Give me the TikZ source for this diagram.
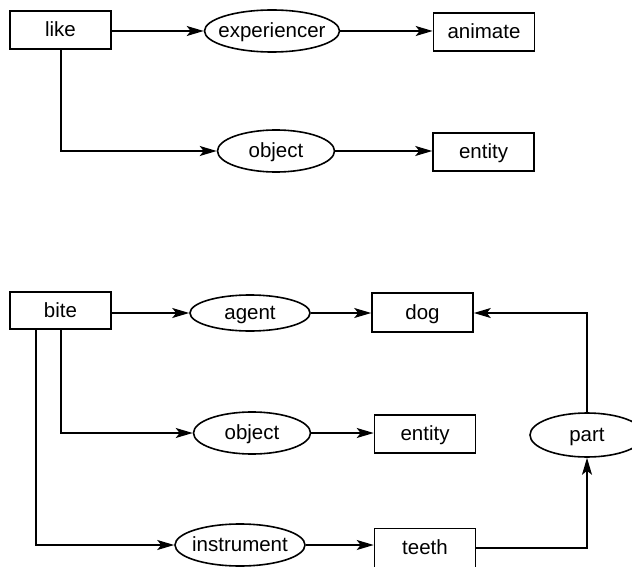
\documentclass[tikz,border=0pt]{standalone}
\usepackage{fontspec}
\setmainfont{Liberation Sans}
\usetikzlibrary{shapes.geometric,arrows.meta}
\begin{document}
\begin{tikzpicture}[x=1pt,y=-1pt,
  every node/.style={font=\fontsize{20.5}{24}\selectfont, text height=15.5pt, text depth=2pt},
  boxnode/.style={draw, line width=1.6pt, rectangle, inner sep=0pt, minimum width=101pt, minimum height=38pt},
  ellnode/.style={draw, line width=1.6pt, ellipse, inner sep=0pt},
  conn/.style={line width=1.5pt, -{Stealth[length=17pt,width=10pt,inset=4pt]}}
]
\useasboundingbox (0,0) rectangle (632,567);
% top graph
\node[boxnode] (like) at (60.5,30) {like};
\node[ellnode, minimum width=135pt, minimum height=42pt] (exp) at (272,31) {\makebox[0pt]{experiencer}};
\node[boxnode] (animate) at (484,32) {animate};
\node[ellnode, minimum width=117pt, minimum height=42pt] (obj1) at (276,151) {\makebox[0pt]{object}};
\node[boxnode] (entity1) at (483.5,152) {entity};
\draw[conn] (like.east |- exp) -- (exp.west);
\draw[conn] (exp.east) -- (animate.west |- exp);
\draw[conn] (like.south -| 61,0) |- (obj1.west);
\draw[conn] (obj1.east) -- (entity1.west |- obj1);
% bottom graph
\node[boxnode, minimum height=37pt] (bite) at (60.5,310.5) {bite};
\node[ellnode, minimum width=120pt, minimum height=36pt] (agent) at (250,313) {\makebox[0pt]{agent}};
\node[boxnode, minimum height=39pt] (dog) at (422.5,312.5) {dog};
\node[ellnode, minimum width=117pt, minimum height=42pt] (obj2) at (252,433) {\makebox[0pt]{object}};
\node[boxnode] (entity2) at (425,434) {entity};
\node[ellnode, minimum width=130pt, minimum height=42pt] (instr) at (240,545) {\makebox[0pt]{instrument}};
\node[boxnode, minimum height=39pt] (teeth) at (425,548) {teeth};
\node[ellnode, minimum width=114pt, minimum height=44pt] (part) at (587,435) {\makebox[0pt]{part}};
\draw[conn] (bite.east |- agent) -- (agent.west);
\draw[conn] (agent.east) -- (dog.west |- agent);
\draw[conn] (bite.south -| 61,0) |- (obj2.west);
\draw[conn] (obj2.east) -- (entity2.west |- obj2);
\draw[conn] (bite.south -| 36,0) |- (instr.west);
\draw[conn] (instr.east) -- (teeth.west |- instr);
\draw[conn] (teeth.east) -| (part.south);
\draw[conn] (part.north) |- (dog.east |- 0,313);
\end{tikzpicture}
\end{document}
